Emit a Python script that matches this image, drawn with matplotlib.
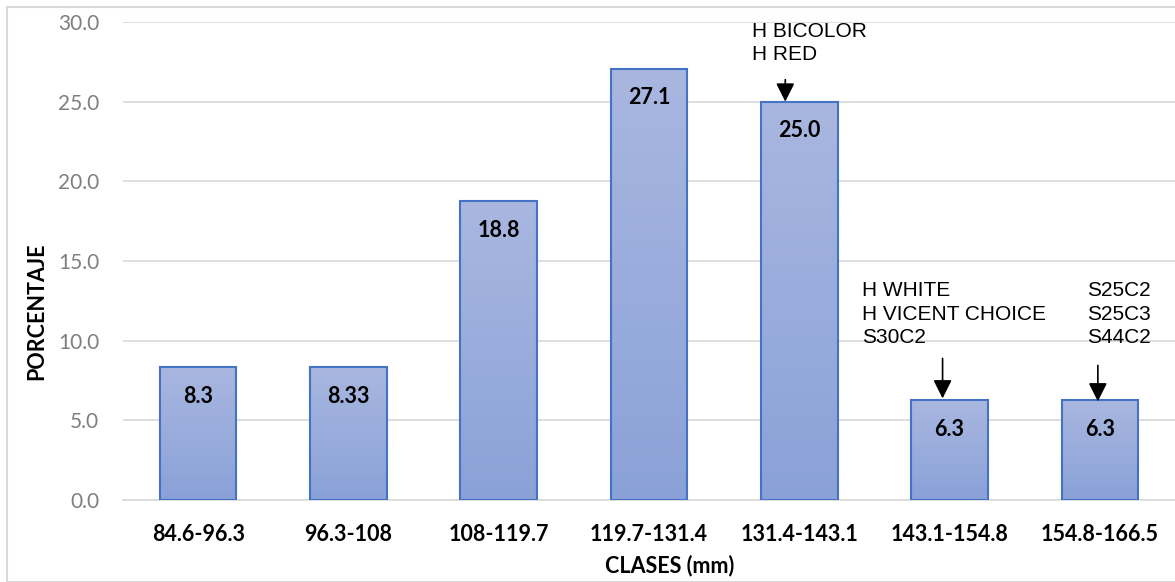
import matplotlib
matplotlib.use("Agg")
import matplotlib.pyplot as plt
import numpy as np
from matplotlib.patches import Rectangle
from matplotlib.colors import LinearSegmentedColormap

categories = ["84.6-96.3", "96.3-108", "108-119.7", "119.7-131.4",
              "131.4-143.1", "143.1-154.8", "154.8-166.5"]
values = [8.33, 8.33, 18.75, 27.08, 25.0, 6.25, 6.25]
value_labels = ["8.3", "8.33", "18.8", "27.1", "25.0", "6.3", "6.3"]
yticks = [0, 5, 10, 15, 20, 25, 30]
annotations = {4: "H BICOLOR\nH RED",
               5: "H WHITE\nH VICENT CHOICE\nS30C2",
               6: "S25C2\nS25C3\nS44C2"}

W, H = 1175, 582
fig = plt.figure(figsize=(W/100, H/100), dpi=100)
ax = fig.add_axes([123/W, 1-500/H, (1175-123)/W, (500-22)/H])

x = np.arange(len(categories))
bw = 0.51
bars = ax.bar(x, values, width=bw, color="none", edgecolor="#4472C4", linewidth=1.5, zorder=3)

cmap = LinearSegmentedColormap.from_list("g", ["#8AA1D8", "#A9B7E0"])
grad = np.linspace(0, 1, 256).reshape(-1, 1)
for b in bars:
    x0, y0, w, h = b.get_x(), b.get_y(), b.get_width(), b.get_height()
    im = ax.imshow(grad, cmap=cmap, aspect="auto", origin="lower",
                   extent=[x0, x0+w, y0, y0+h], zorder=2)
    clip = Rectangle((x0, y0), w, h, transform=ax.transData)
    im.set_clip_path(clip)

for xi, v, lab in zip(x, values, value_labels):
    ax.annotate(lab, (xi, v), xytext=(0, -29), textcoords="offset pixels",
                ha="center", va="center", fontsize=15.5, fontweight="bold",
                family="Lato", color="black", zorder=5)

ax.set_xlim(-0.5, len(categories)-0.5)
ax.set_ylim(0, 30)
ax.set_yticks(yticks)
ax.set_yticklabels([f"{t:.1f}" for t in yticks], fontsize=15, color="#7F7F7F", family="Lato")
ax.set_xticks(x)
ax.set_xticklabels(categories, fontsize=15.5, fontweight="bold", family="Lato")
ax.tick_params(axis="both", length=0)
ax.tick_params(axis="x", pad=17)
ax.tick_params(axis="y", pad=17)
ax.grid(axis="y", color="#D9D9D9", linewidth=1.2, zorder=0)
for s in ["top", "right", "left"]:
    ax.spines[s].set_visible(False)
ax.spines["bottom"].set_color("#D9D9D9")
ax.spines["bottom"].set_linewidth(1.2)

ax.set_xlabel("CLASES (mm)", fontsize=15.5, fontweight="bold", family="Lato")
ax.xaxis.set_label_coords((670-123)/1052, -(566-500)/478)
ax.xaxis.label.set_va("center")
ax.set_ylabel("PORCENTAJE", fontsize=15.5, fontweight="bold", family="Lato")
ax.yaxis.set_label_coords(-(123-37)/1052, (500-311)/478)
ax.yaxis.label.set_va("center")

# annotations with arrows (offsets in pixels relative to bar top centre)
# (text dx, text dy, arrow dx, arrow tail dy, arrow tip dy)
ann_cfg = {4: (-47, 80, -14, 22, 0),
           5: (-88, 119, -7, 42, 2),
           6: (-13, 119, -2, 35, -1)}
for i, txt in annotations.items():
    v = values[i]
    tdx, tdy, adx, tail, tip = ann_cfg[i]
    tr = ax.transData
    px, py = tr.transform((x[i], v))
    inv = tr.inverted()
    a_tip = inv.transform((px + adx, py + tip))
    a_tail = inv.transform((px + adx, py + tail))
    ax.annotate("", xy=a_tip, xytext=a_tail,
                arrowprops=dict(arrowstyle="-|>,head_length=0.75,head_width=0.375",
                                color="black", lw=1.2, mutation_scale=15,
                                shrinkA=0, shrinkB=0), zorder=6)
    ax.annotate(txt, (x[i], v), xytext=(tdx, tdy), textcoords="offset pixels",
                ha="left", va="top", fontsize=15, family="Liberation Sans",
                linespacing=1.3, color="black", annotation_clip=False)

# outer border
fig.patches.append(Rectangle((7/W, 0), 1.2, 1-7/H, transform=fig.transFigure,
                             fill=False, edgecolor="#D9D9D9", linewidth=1.5))

fig.savefig("out.png", dpi=100)
